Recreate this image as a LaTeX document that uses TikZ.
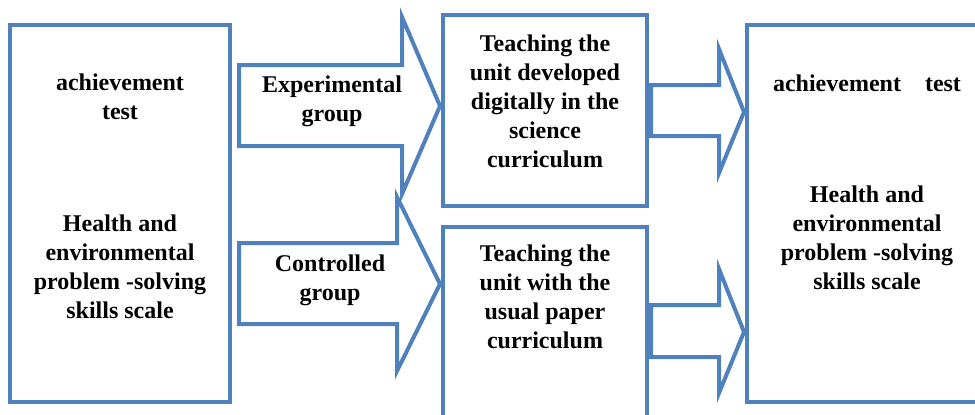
\documentclass[tikz,border=0pt]{standalone}
\usepackage{fontspec}
\setmainfont{Liberation Serif}
\begin{document}
\begin{tikzpicture}[x=1pt,y=-1pt,
  outl/.style={draw=frameblue, line width=4pt, line join=miter},
  lbl/.style={align=center, font=\fontsize{24}{29}\selectfont\bfseries, text=black, inner sep=0pt}]
\definecolor{frameblue}{HTML}{4F81BD}
\useasboundingbox (0,0) rectangle (975,415);
\clip (0,0) rectangle (975,415);
\fill[white] (0,0) rectangle (975,415);
% boxes
\draw[outl] (10,25) rectangle (230,402);
\draw[outl] (443,15) rectangle (647,206);
\draw[outl] (443,227) rectangle (647,440);
\draw[outl] (747,25) rectangle (1000,402);
% big block arrows
\draw[outl] (239,65) -- (402,65) -- (402,17) -- (440,106) -- (402,194) -- (402,146) -- (239,146) -- cycle;
\draw[outl] (239,243) -- (397,243) -- (397,197) -- (440,284) -- (397,371) -- (397,324) -- (239,324) -- cycle;
% small block arrows
\draw[outl] (651,85) -- (719,85) -- (719,49) -- (744,112) -- (719,173) -- (719,136) -- (651,136) -- cycle;
\draw[outl] (651,305) -- (719,305) -- (719,269) -- (744,332) -- (719,393) -- (719,357) -- (651,357) -- cycle;
% texts
\node[lbl] (pre1) at (120,97) {achievement\\test};
\node[lbl] (pre2) at (120,267) {Health and\\environmental\\problem -solving\\skills scale};
\node[lbl] (exp) at (332,101) {Experimental\\group};
\node[lbl] (ctl) at (330,280) {Controlled\\group};
\node[lbl] (t1) at (545,101) {Teaching the\\unit developed\\digitally in the\\science\\curriculum};
\node[lbl] (t2) at (545,297) {Teaching the\\unit with the\\usual paper\\curriculum};
\node[lbl] (post1) at (867,83) {achievement\quad test};
\node[lbl] (post2) at (867,238) {Health and\\environmental\\problem -solving\\skills scale};
\end{tikzpicture}
\end{document}
